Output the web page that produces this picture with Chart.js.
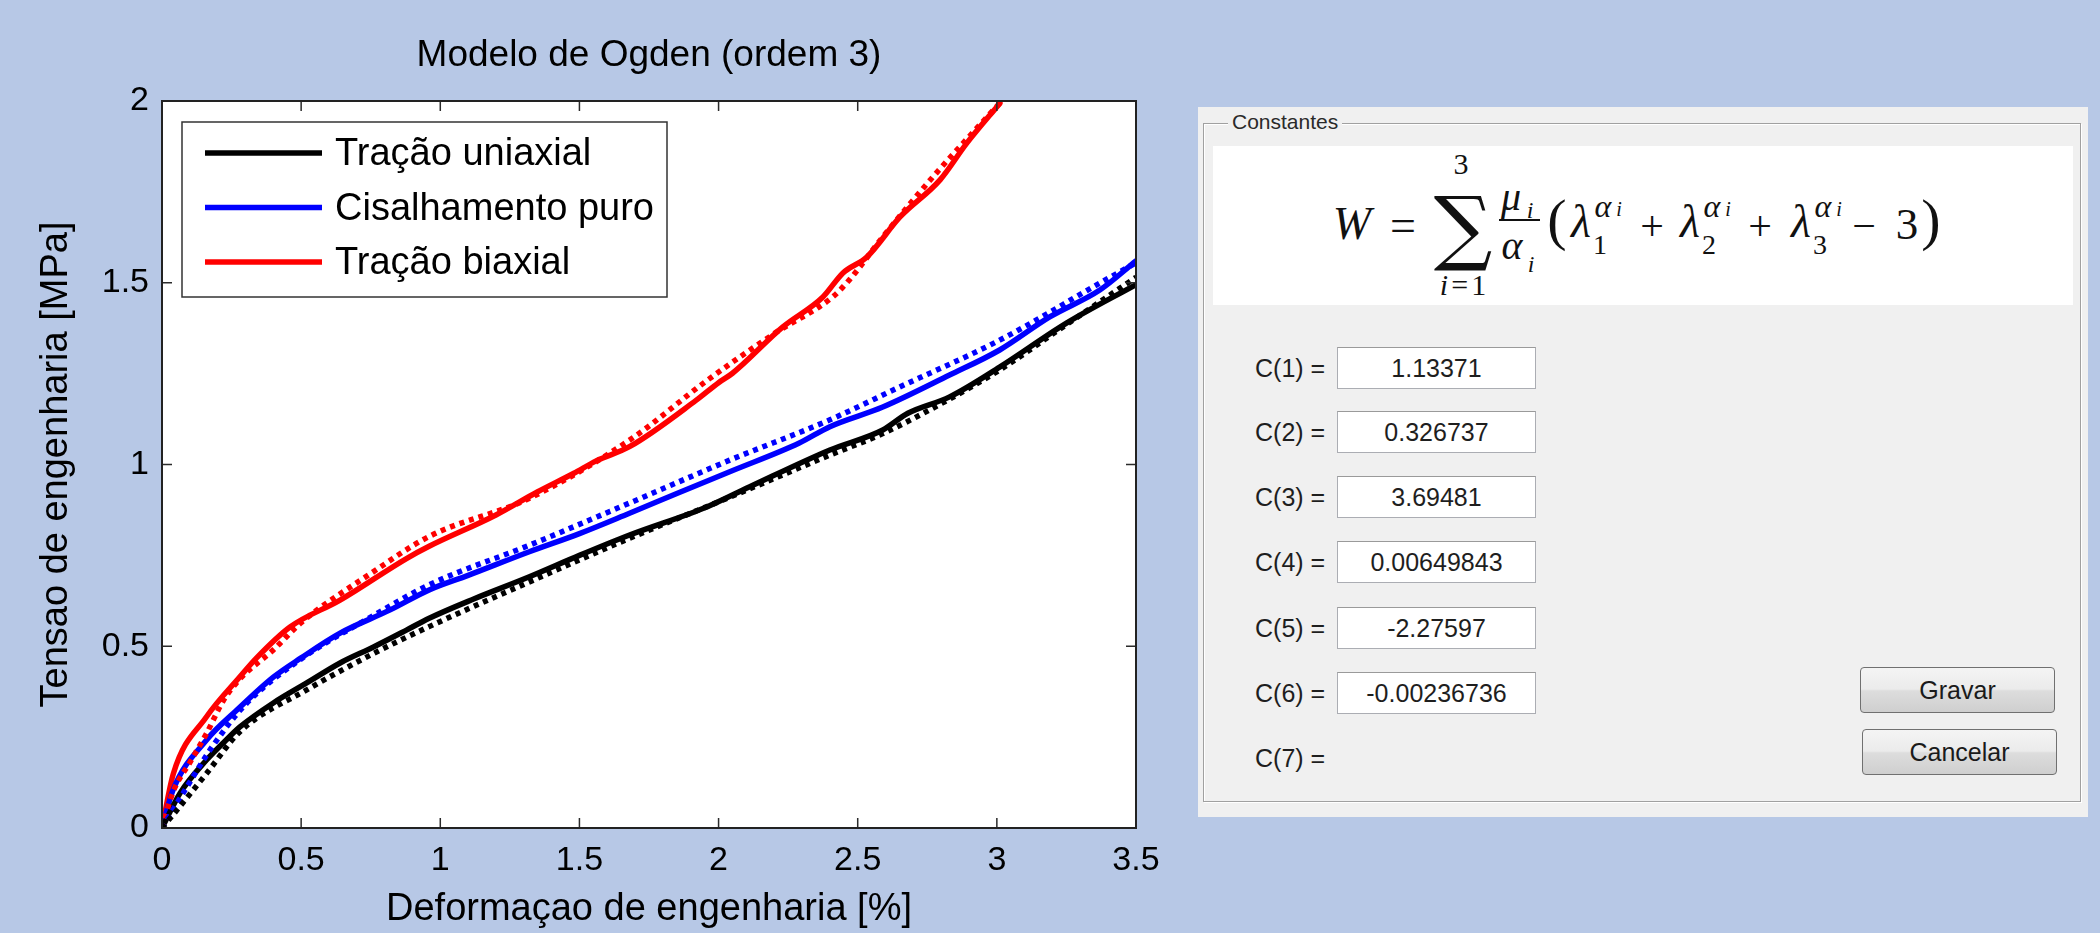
<!DOCTYPE html>
<html>
<head>
<meta charset="utf-8">
<script src="https://cdn.jsdelivr.net/npm/chart.js@4.4.1/dist/chart.umd.min.js"></script>
<style>
html,body{margin:0;padding:0;background:#b7c8e6;width:2100px;height:933px;overflow:hidden;}
#chartBox{position:absolute;left:0;top:0;width:1180px;height:933px;}
.abs{position:absolute;}
#panel{left:1198px;top:107px;width:890px;height:710px;background:#f0f0f0;}
#group{left:1203px;top:123px;width:876px;height:677px;border:1px solid #a0a0a0;box-shadow:inset 1px 1px 0 #fff,1px 1px 0 #fff;}
#glabel{left:1228px;top:109px;padding:0 4px;background:#f0f0f0;font:21px "Liberation Sans",Arial,sans-serif;color:#2a2a2a;line-height:26px;}
#fbg{left:1213px;top:146px;width:860px;height:159px;background:#fff;}
.f{position:absolute;transform:translate(-50%,-50%);line-height:1;white-space:nowrap;font-family:"Liberation Serif","DejaVu Serif",serif;color:#111;}
.it{font-style:italic;}
.lbl{position:absolute;left:1255px;transform:translateY(-50%);font:25px "Liberation Sans",Arial,sans-serif;color:#1e1e1e;line-height:1;white-space:nowrap;}
.box{position:absolute;left:1337px;width:197px;height:40px;background:#fff;border:1px solid #abadb3;border-top-color:#9a9a9a;font:25px "Liberation Sans",Arial,sans-serif;color:#1e1e1e;text-align:center;line-height:40px;}
.btn{position:absolute;width:193px;height:44px;border:1px solid #707070;border-radius:4px;background:linear-gradient(#f4f4f4 0%,#ebebeb 48%,#dddddd 52%,#cfcfcf 100%);font:25px "Liberation Sans",Arial,sans-serif;color:#1a1a1a;text-align:center;line-height:44px;}
</style>
</head>
<body>
<div id="chartBox"><canvas id="c"></canvas></div>

<div id="panel" class="abs"></div>
<div id="group" class="abs"></div>
<div id="glabel" class="abs">Constantes</div>
<div id="fbg" class="abs"></div>
<div id="formula"></div>
<div id="consts"></div>
<div class="btn" style="left:1860px;top:667px;">Gravar</div>
<div class="btn" style="left:1862px;top:729px;">Cancelar</div>

<script>
// ---------------- chart text ----------------
const chartTitle = 'Modelo de Ogden (ordem 3)';
const xAxisTitle = 'Deformaçao de engenharia [%]';
const yAxisTitle = 'Tensao de engenharia [MPa]';
const xTickValues = [0, 0.5, 1, 1.5, 2, 2.5, 3, 3.5];
const yTickValues = [0, 0.5, 1, 1.5, 2];
const seriesNames = ['Tração uniaxial', 'Cisalhamento puro', 'Tração biaxial'];

// ---------------- data (experimental = solid, model = dotted) ----------------
const uniaxialExpX = [0, 0.065, 0.16, 0.22, 0.28, 0.4, 0.52, 0.64, 0.76, 0.88, 0.96, 1.12, 1.32, 1.5, 1.68, 1.96, 2.11, 2.4, 2.59, 2.68, 2.83, 3.01, 3.25, 3.5];
const uniaxialExpY = [0, 0.096, 0.187, 0.234, 0.278, 0.344, 0.399, 0.454, 0.498, 0.545, 0.577, 0.63, 0.691, 0.75, 0.806, 0.884, 0.938, 1.04, 1.095, 1.141, 1.186, 1.268, 1.389, 1.495];
const uniaxialModX = [0, 0.065, 0.16, 0.28, 0.52, 0.76, 0.96, 1.32, 1.68, 2.04, 2.4, 2.59, 2.83, 3.01, 3.25, 3.5];
const uniaxialModY = [0, 0.06, 0.15, 0.265, 0.38, 0.48, 0.554, 0.677, 0.797, 0.91, 1.026, 1.085, 1.18, 1.26, 1.385, 1.515];

const shearExpX = [0, 0.04, 0.16, 0.27, 0.4, 0.5, 0.64, 0.82, 0.96, 1.1, 1.32, 1.5, 1.68, 1.85, 2.04, 2.29, 2.4, 2.59, 2.83, 3.01, 3.19, 3.37, 3.5];
const shearExpY = [0, 0.105, 0.242, 0.325, 0.415, 0.468, 0.536, 0.6, 0.655, 0.695, 0.76, 0.81, 0.866, 0.92, 0.98, 1.059, 1.104, 1.158, 1.246, 1.315, 1.406, 1.48, 1.56];
const shearModX = [0, 0.076, 0.18, 0.3, 0.5, 0.75, 0.96, 1.32, 1.68, 2.04, 2.4, 2.65, 3.01, 3.37, 3.5];
const shearModY = [0, 0.096, 0.223, 0.34, 0.465, 0.58, 0.669, 0.778, 0.894, 1.012, 1.123, 1.213, 1.342, 1.499, 1.555];

const biaxialExpX = [0, 0.041, 0.16, 0.28, 0.34, 0.46, 0.64, 0.88, 0.96, 1.2, 1.35, 1.48, 1.56, 1.68, 1.92, 2.0, 2.05, 2.23, 2.375, 2.447, 2.533, 2.652, 2.796, 2.892, 3.011];
const biaxialExpY = [0, 0.15, 0.306, 0.416, 0.468, 0.553, 0.627, 0.742, 0.775, 0.861, 0.925, 0.976, 1.01, 1.049, 1.177, 1.225, 1.251, 1.378, 1.461, 1.527, 1.571, 1.681, 1.783, 1.884, 1.994];
const biaxialModX = [0, 0.04, 0.1, 0.16, 0.22, 0.28, 0.4, 0.5, 0.75, 0.96, 1.32, 1.68, 1.96, 2.2, 2.41, 2.47, 2.59, 2.77, 3.01];
const biaxialModY = [0, 0.1, 0.18, 0.26, 0.35, 0.41, 0.49, 0.565, 0.7, 0.802, 0.907, 1.067, 1.232, 1.36, 1.461, 1.508, 1.626, 1.791, 1.994];

// ---------------- panel text ----------------
const constLabels = ['C(1) =', 'C(2) =', 'C(3) =', 'C(4) =', 'C(5) =', 'C(6) =', 'C(7) ='];
const constValues = ['1.13371', '0.326737', '3.69481', '0.00649843', '-2.27597', '-0.00236736', null];

const colors = ['#000000', '#0000ff', '#ff0000'];
const toPts = (xs, ys) => xs.map((v, i) => ({x: v, y: ys[i]}));

function solid(label, xs, ys, color) {
  return {label, data: toPts(xs, ys), borderColor: color, backgroundColor: color, borderWidth: 5.5,
    pointRadius: 0, cubicInterpolationMode: 'monotone', fill: false, order: 2, inLegend: true,
    borderCapStyle: 'round', borderJoinStyle: 'round'};
}
function dotted(label, xs, ys, color) {
  return {label, data: toPts(xs, ys), borderColor: color, backgroundColor: color, borderWidth: 5.5,
    borderDash: [5, 5], pointRadius: 0, cubicInterpolationMode: 'monotone', fill: false, order: 1,
    inLegend: false, borderCapStyle: 'butt'};
}

const datasets = [
  solid(seriesNames[0], uniaxialExpX, uniaxialExpY, colors[0]),
  solid(seriesNames[1], shearExpX, shearExpY, colors[1]),
  solid(seriesNames[2], biaxialExpX, biaxialExpY, colors[2]),
  dotted(seriesNames[0] + ' (modelo)', uniaxialModX, uniaxialModY, colors[0]),
  dotted(seriesNames[1] + ' (modelo)', shearModX, shearModY, colors[1]),
  dotted(seriesNames[2] + ' (modelo)', biaxialModX, biaxialModY, colors[2])
];

const framePlugin = {
  id: 'frame',
  beforeDraw(chart) {
    const {ctx, chartArea: a} = chart;
    ctx.save();
    ctx.fillStyle = '#ffffff';
    ctx.fillRect(a.left, a.top, a.right - a.left, a.bottom - a.top);
    ctx.restore();
  },
  afterDraw(chart) {
    const {ctx, chartArea: a, scales: {x, y}} = chart;
    ctx.save();
    ctx.strokeStyle = '#2b2b2b';
    ctx.lineWidth = 1.5;
    const L = 10;
    x.ticks.forEach(t => {
      const p = x.getPixelForValue(t.value);
      ctx.beginPath();
      ctx.moveTo(p, a.bottom); ctx.lineTo(p, a.bottom - L);
      ctx.moveTo(p, a.top); ctx.lineTo(p, a.top + L);
      ctx.stroke();
    });
    y.ticks.forEach(t => {
      const p = y.getPixelForValue(t.value);
      ctx.beginPath();
      ctx.moveTo(a.left, p); ctx.lineTo(a.left + L, p);
      ctx.moveTo(a.right, p); ctx.lineTo(a.right - L, p);
      ctx.stroke();
    });
    ctx.lineWidth = 2;
    ctx.strokeStyle = '#222';
    ctx.strokeRect(a.left, a.top, a.right - a.left, a.bottom - a.top);

    // legend box (inside the axes, upper left)
    const bx = a.left + 20, by = a.top + 21, bw = 485, bh = 175;
    ctx.fillStyle = '#ffffff';
    ctx.fillRect(bx, by, bw, bh);
    ctx.lineWidth = 1.5;
    ctx.strokeStyle = '#333';
    ctx.strokeRect(bx, by, bw, bh);
    const items = chart.data.datasets.filter(d => d.inLegend);
    ctx.font = '38px "Liberation Sans", Arial, sans-serif';
    ctx.textBaseline = 'middle';
    ctx.textAlign = 'left';
    items.forEach((d, i) => {
      const yy = by + 31 + i * 54.5;
      ctx.strokeStyle = d.borderColor;
      ctx.lineWidth = 5.5;
      ctx.beginPath();
      ctx.moveTo(bx + 23, yy); ctx.lineTo(bx + 140, yy);
      ctx.stroke();
      ctx.fillStyle = '#000';
      ctx.fillText(d.label, bx + 153, yy + 2);
    });
    ctx.restore();
  }
};

new Chart(document.getElementById('c'), {
  type: 'line',
  data: {datasets},
  options: {
    responsive: true,
    maintainAspectRatio: false,
    animation: false,
    layout: {padding: {left: 0, right: 44, top: 0, bottom: 0}},
    plugins: {
      legend: {display: false},
      tooltip: {enabled: false},
      title: {
        display: true, text: chartTitle, fullSize: false, color: '#000',
        font: {family: '"Liberation Sans", Arial, sans-serif', size: 37, weight: 'normal'},
        padding: {top: 34, bottom: 22.6}
      }
    },
    scales: {
      x: {
        type: 'linear', min: 0, max: 3.5,
        afterBuildTicks: s => { s.ticks = xTickValues.map(v => ({value: v})); },
        afterFit: s => { s.height = 105; },
        grid: {display: false, drawTicks: false},
        border: {display: false},
        ticks: {color: '#000', padding: 12, maxRotation: 0, autoSkip: false,
          font: {family: '"Liberation Sans", Arial, sans-serif', size: 34},
          callback: v => String(v)},
        title: {display: true, text: xAxisTitle, color: '#000',
          font: {family: '"Liberation Sans", Arial, sans-serif', size: 38},
          padding: {top: 0, bottom: 1}}
      },
      y: {
        type: 'linear', min: 0, max: 2,
        afterBuildTicks: s => { s.ticks = yTickValues.map(v => ({value: v})); },
        afterFit: s => { s.width = 162; },
        grid: {display: false, drawTicks: false},
        border: {display: false},
        ticks: {color: '#000', padding: 13, autoSkip: false,
          font: {family: '"Liberation Sans", Arial, sans-serif', size: 34},
          callback: v => String(v)},
        title: {display: true, text: yAxisTitle, color: '#000',
          font: {family: '"Liberation Sans", Arial, sans-serif', size: 38},
          padding: {top: 34, bottom: 0}}
      }
    }
  },
  plugins: [framePlugin]
});

// ---------------- right panel: formula ----------------
const F = document.getElementById('formula');
function put(html, cx, cy, size, extra) {
  const d = document.createElement('div');
  d.className = 'f' + (extra ? ' ' + extra : '');
  d.style.left = cx + 'px';
  d.style.top = cy + 'px';
  d.style.fontSize = size + 'px';
  d.innerHTML = html;
  F.appendChild(d);
  return d;
}
put('W', 1352, 224, 46, 'it');
put('=', 1403, 226, 46);
const sig = put('∑', 1463, 227, 82);
sig.style.fontFamily = '"DejaVu Serif", serif';
put('3', 1461, 164, 30);
put('<span class="it">i</span><span style="margin:0 3px">=</span>1', 1463, 285, 30);
put('μ', 1511, 197, 40, 'it');
put('i', 1530, 210, 24, 'it');
const bar = document.createElement('div');
bar.style.cssText = 'position:absolute;left:1499px;top:219px;width:41px;height:2px;background:#111;';
F.appendChild(bar);
put('α', 1512, 246, 40, 'it');
put('i', 1531, 264, 24, 'it');
put('(', 1557, 220, 58);
const lamCenters = [1581, 1690, 1801];
const subs = ['1', '2', '3'];
lamCenters.forEach((cx, k) => {
  put('λ', cx, 222, 46, 'it');
  put('α', cx + 22, 206, 32, 'it');
  put('i', cx + 38, 209, 20, 'it');
  put(subs[k], cx + 19, 245, 28);
});
put('+', 1652, 226, 42);
put('+', 1760, 226, 42);
put('−', 1864, 226, 42);
put('3', 1907, 224, 45);
put(')', 1931, 220, 58);

// ---------------- right panel: constants ----------------
const boxTops = [347, 411, 476, 541, 607, 672, 737];
const C = document.getElementById('consts');
constLabels.forEach((lab, i) => {
  const l = document.createElement('div');
  l.className = 'lbl';
  l.style.top = (boxTops[i] + 21) + 'px';
  l.textContent = lab;
  C.appendChild(l);
  if (constValues[i] !== null) {
    const b = document.createElement('div');
    b.className = 'box';
    b.style.top = boxTops[i] + 'px';
    b.textContent = constValues[i];
    C.appendChild(b);
  }
});
</script>
</body>
</html>
